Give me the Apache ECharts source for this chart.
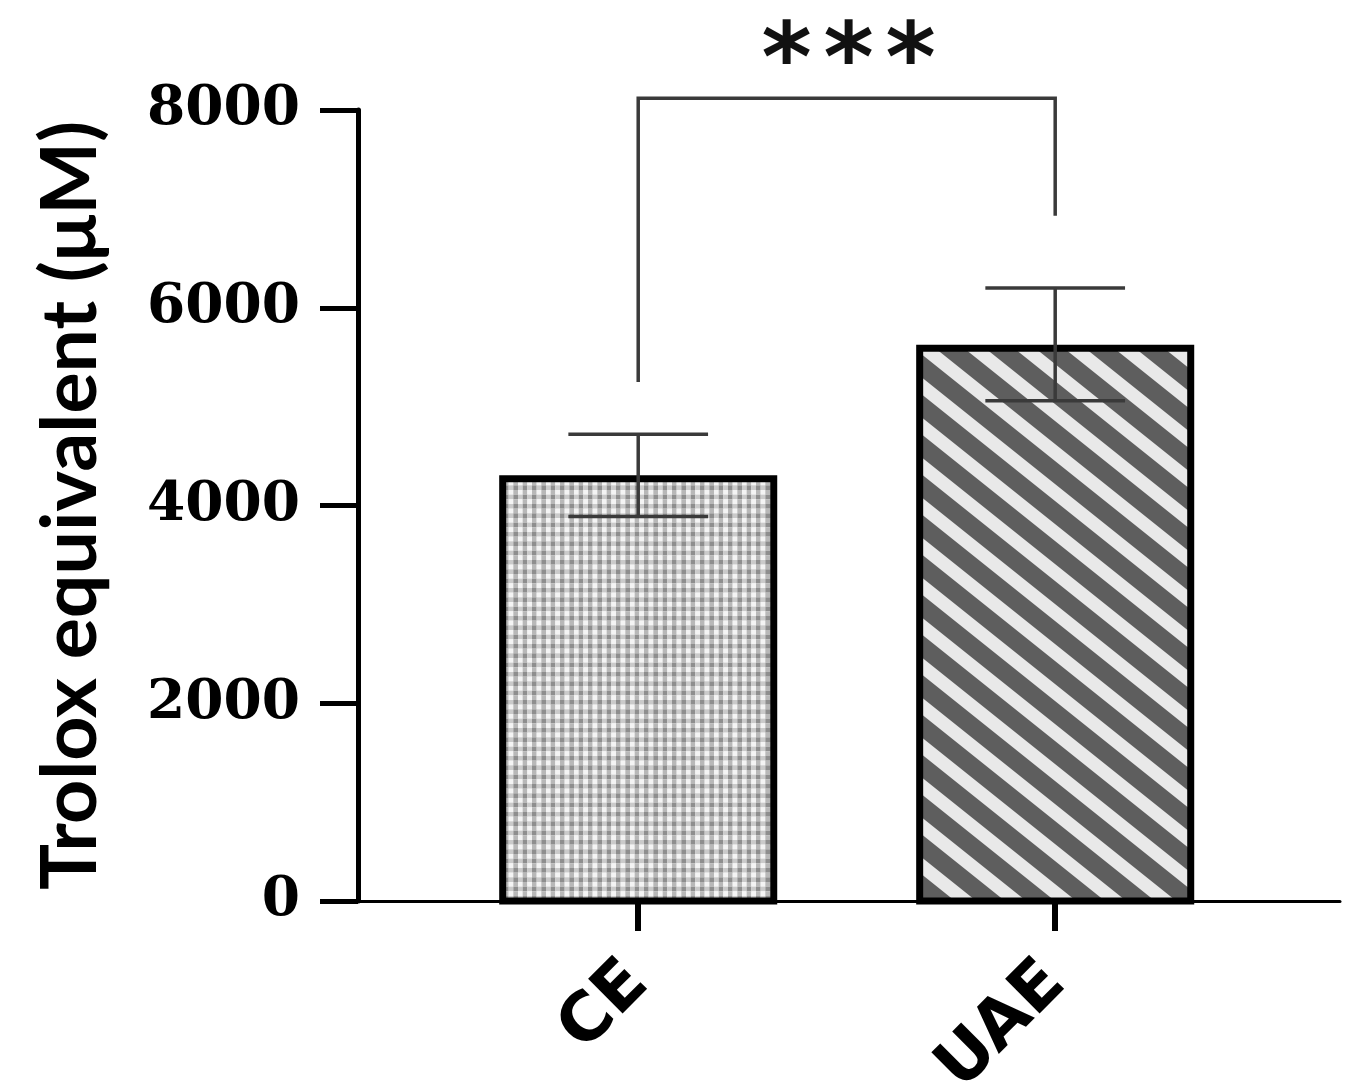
<!DOCTYPE html>
<html>
<head>
<meta charset="utf-8">
<script src="https://cdn.jsdelivr.net/npm/echarts@6/dist/echarts.min.js"></script>
<style>html,body{margin:0;padding:0;background:#fff;}#c{width:1355px;height:1083px;}</style>
</head>
<body>
<div id="c"></div>
<script>
// ---- data ----
const categories = ['CE', 'UAE'];
const means = [4270, 5590];
const errUpper = [4720, 6200];
const errLower = [3890, 5060];
const yTicks = [0, 2000, 4000, 6000, 8000];
// significance bracket: [fromIndex, toIndex, leftLegBottom, rightLegBottom, top]
const bracket = [[0, 1, 5250, 6930, 8120]];
const sigLabel = '***';

// ---- patterns ----
function checkerPattern() {
  const N = 3, p = 28 / N, T = 28;
  const c = document.createElement('canvas');
  c.width = T; c.height = T;
  const g = c.getContext('2d');
  for (let i = 0; i < N; i++) {
    for (let j = 0; j < N; j++) {
      const x = i * p, y = j * p, h = p / 2;
      g.fillStyle = '#8e8e8e'; g.fillRect(x, y, h, h);
      g.fillStyle = '#cacaca'; g.fillRect(x + h, y, h, h);
      g.fillStyle = '#b8b8b8'; g.fillRect(x, y + h, h, h);
      g.fillStyle = '#f4f4f4'; g.fillRect(x + h, y + h, h, h);
    }
  }
  return {image: c, repeat: 'repeat'};
}
function stripePattern() {
  const W = 50, H = 40, t = 17;
  const c = document.createElement('canvas');
  c.width = W; c.height = H;
  const g = c.getContext('2d');
  g.fillStyle = '#5e5e5e'; g.fillRect(0, 0, W, H);
  g.fillStyle = '#e9e9e9';
  for (let k = -2; k <= 1; k++) {
    const o = k * H;
    g.beginPath();
    g.moveTo(0, o); g.lineTo(W, o + H); g.lineTo(W, o + H + t); g.lineTo(0, o + t);
    g.closePath(); g.fill();
  }
  return {image: c, repeat: 'repeat'};
}
const fills = [checkerPattern(), stripePattern()];

const barFrac = 0.65;
const capFrac = 0.335;
const lineCol = '#3a3a3a';

const chart = echarts.init(document.getElementById('c'), null, {renderer: 'canvas'});
chart.setOption({
  animation: false,
  backgroundColor: '#fff',
  grid: {left: 358, right: 15, top: 110, bottom: 182, containLabel: false, outerBoundsMode: 'none'},
  xAxis: {
    type: 'value', min: -0.672, max: 1.683,
    splitLine: {show: false},
    axisLine: {show: true, onZero: false, lineStyle: {color: '#000', width: 3}},
    axisTick: {show: true, customValues: [0, 1], length: 30, lineStyle: {color: '#000', width: 6}},
    axisLabel: {
      customValues: [0, 1], rotate: 45, margin: 72,
      formatter: v => categories[Math.round(v)] || '',
      fontFamily: 'DejaVu Sans', fontWeight: 'bold', fontSize: 67, color: '#000'
    }
  },
  yAxis: {
    type: 'value', min: 0, max: 8000, interval: 2000,
    splitLine: {show: false},
    axisLine: {show: true, onZero: false, lineStyle: {color: '#000', width: 5}},
    axisTick: {show: true, length: 38, lineStyle: {color: '#000', width: 5}},
    axisLabel: {
      margin: 58, formatter: v => String(v),
      fontFamily: 'DejaVu Serif', fontWeight: 'bold', fontSize: 55, color: '#000'
    },
    name: 'Trolox equivalent (μM)', nameLocation: 'middle', nameGap: 248,
    nameTextStyle: {fontFamily: 'Lato', fontWeight: 'bold', fontSize: 77, color: '#000'}
  },
  series: [
    {
      type: 'custom', name: 'bars',
      data: means.map((m, i) => [i, m]),
      encode: {x: 0, y: 1},
      renderItem: function (params, api) {
        const i = api.value(0);
        const top = api.coord([i, api.value(1)]);
        const base = api.coord([i, 0]);
        const w = api.size([barFrac, 0])[0];
        return {
          type: 'rect',
          shape: {x: top[0] - w / 2, y: top[1], width: w, height: base[1] - top[1]},
          style: {fill: fills[params.dataIndex], stroke: '#000', lineWidth: 7}
        };
      }
    },
    {
      type: 'custom', name: 'error',
      data: means.map((m, i) => [i, errLower[i], errUpper[i]]),
      encode: {x: 0, y: [1, 2]},
      z: 3,
      renderItem: function (params, api) {
        const i = api.value(0);
        const lo = api.coord([i, api.value(1)]);
        const hi = api.coord([i, api.value(2)]);
        const cw = api.size([capFrac, 0])[0];
        const st = {stroke: lineCol, lineWidth: 3.5};
        return {type: 'group', children: [
          {type: 'line', shape: {x1: lo[0], y1: lo[1], x2: hi[0], y2: hi[1]}, style: st},
          {type: 'line', shape: {x1: hi[0] - cw / 2, y1: hi[1], x2: hi[0] + cw / 2, y2: hi[1]}, style: st},
          {type: 'line', shape: {x1: lo[0] - cw / 2, y1: lo[1], x2: lo[0] + cw / 2, y2: lo[1]}, style: st}
        ]};
      }
    },
    {
      type: 'custom', name: 'bracket', clip: false,
      data: bracket,
      encode: {x: [0, 1], y: [2, 3, 4]},
      z: 4,
      renderItem: function (params, api) {
        const a = api.value(0), b = api.value(1);
        const p1 = api.coord([a, api.value(2)]);
        const p2 = api.coord([a, api.value(4)]);
        const p3 = api.coord([b, api.value(4)]);
        const p4 = api.coord([b, api.value(3)]);
        const cx = (p2[0] + p3[0]) / 2 + 2;
        const stars = sigLabel.split('').map((s, k) => ({
          type: 'text',
          style: {
            x: cx + (k - 1) * 62, y: p2[1] - 32, text: s,
            fontFamily: 'DejaVu Sans', fontWeight: 'bold', fontSize: 96,
            fill: '#111', align: 'center', verticalAlign: 'middle'
          }
        }));
        return {type: 'group', children: [
          {type: 'polyline', shape: {points: [p1, p2, p3, p4]},
           style: {stroke: lineCol, lineWidth: 3.5, fill: null}}
        ].concat(stars)};
      }
    }
  ]
});
</script>
</body>
</html>
